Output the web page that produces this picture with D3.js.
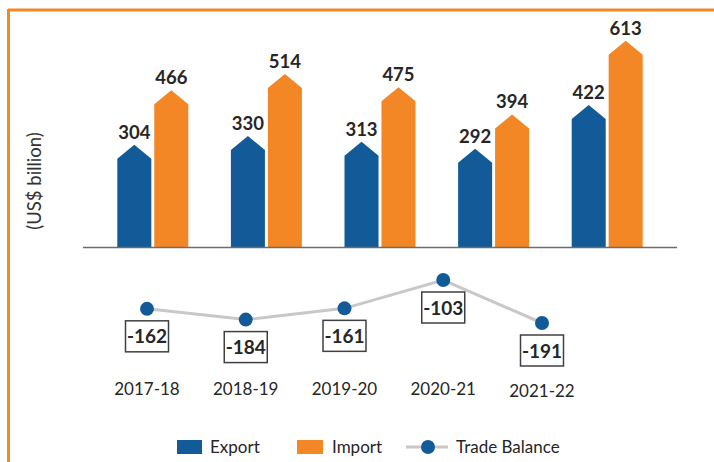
<!DOCTYPE html>
<html>
<head>
<meta charset="utf-8">
<script src="https://cdn.jsdelivr.net/npm/d3@7.9.0/dist/d3.min.js"></script>
<style>
  body { margin: 0; background: #fff; }
  svg { display: block; font-family: Lato, "Open Sans", sans-serif; }
</style>
</head>
<body>
<svg id="chart" width="714" height="462"></svg>
<script>
const years = ["2017-18", "2018-19", "2019-20", "2020-21", "2021-22"];
const exportVals = [304, 330, 313, 292, 422];
const importVals = [466, 514, 475, 394, 613];
const balanceVals = [-162, -184, -161, -103, -191];
const seriesNames = ["Export", "Import"];

const blue = "#135b98";
const orange = "#f38625";
const svg = d3.select("#chart");

// orange frame (top + left only)
svg.append("line").attr("x1", 8).attr("x2", 714).attr("y1", 10).attr("y2", 10)
  .attr("stroke", orange).attr("stroke-width", 3);
svg.append("line").attr("x1", 8.5).attr("x2", 8.5).attr("y1", 9).attr("y2", 462)
  .attr("stroke", orange).attr("stroke-width", 3);

// bars
const x0 = d3.scaleBand().domain(years).range([96, 664]).paddingInner(0.375).paddingOuter(0.1875);
const x1 = d3.scaleBand().domain(seriesNames).range([0, x0.bandwidth()]).paddingInner(0.08);
const y = d3.scaleLinear().domain([0, 660]).range([247, 25]);
const head = 14;

const rows = years.map((yr, i) => ({ year: yr, vals: [
  { key: "Export", value: exportVals[i] },
  { key: "Import", value: importVals[i] }
]}));

function arrowPath(d) {
  const xl = 0, xr = x1.bandwidth(), xm = xr / 2;
  const tip = y(d.value), base = y(0);
  return `M${xl},${base}V${tip + head}L${xm},${tip}L${xr},${tip + head}V${base}Z`;
}

const groups = svg.append("g").selectAll("g")
  .data(rows).join("g")
  .attr("transform", d => `translate(${x0(d.year)},0)`);

const bars = groups.selectAll("g").data(d => d.vals).join("g")
  .attr("transform", d => `translate(${x1(d.key)},0)`);

bars.append("path")
  .attr("d", arrowPath)
  .attr("fill", d => d.key === "Export" ? blue : orange);

bars.append("text")
  .attr("x", x1.bandwidth() / 2)
  .attr("y", d => y(d.value) - 6)
  .attr("text-anchor", "middle")
  .attr("font-size", 18.5).attr("font-weight", "bold").attr("fill", "#262626")
  .text(d => d.value);

svg.append("line").attr("x1", 83).attr("x2", 677).attr("y1", 247.5).attr("y2", 247.5)
  .attr("stroke", "#6d6d6d").attr("stroke-width", 1.5);

// y label
svg.append("text")
  .attr("transform", "translate(41,181) rotate(-90)")
  .attr("text-anchor", "middle")
  .attr("font-size", 18.5).attr("fill", "#333")
  .text("(US$ billion)");

// trade balance line
const xb = d3.scalePoint().domain(years).range([147, 542]);
const yb = d3.scaleLinear().domain([-191, -103]).range([323, 280]);

svg.append("path")
  .datum(balanceVals)
  .attr("d", d3.line().x((d, i) => xb(years[i])).y(d => yb(d)))
  .attr("fill", "none").attr("stroke", "#c8c8c8").attr("stroke-width", 3);

svg.append("g").selectAll("circle").data(balanceVals).join("circle")
  .attr("cx", (d, i) => xb(years[i])).attr("cy", d => yb(d)).attr("r", 7)
  .attr("fill", blue);

const boxes = svg.append("g").selectAll("g").data(balanceVals).join("g")
  .attr("transform", (d, i) => `translate(${xb(years[i])},${yb(d) + 12})`);
boxes.append("rect")
  .attr("x", -21.5).attr("y", 0).attr("width", 43).attr("height", 31)
  .attr("fill", "#fff").attr("stroke", "#404040").attr("stroke-width", 1.5);
boxes.append("text")
  .attr("y", 22.5).attr("text-anchor", "middle")
  .attr("font-size", 19).attr("font-weight", "bold").attr("fill", "#262626")
  .text(d => d);

// category labels
svg.append("g").selectAll("text").data(years).join("text")
  .attr("x", d => xb(d)).attr("y", (d, i) => i === 4 ? 397 : 395)
  .attr("text-anchor", "middle")
  .attr("font-size", 17).attr("fill", "#262626")
  .text(d => d);

// legend
const leg = svg.append("g").attr("font-size", 17).attr("fill", "#262626");
leg.append("rect").attr("x", 177).attr("y", 440).attr("width", 25).attr("height", 14).attr("fill", blue);
leg.append("text").attr("x", 210).attr("y", 453).text("Export");
leg.append("rect").attr("x", 297).attr("y", 440).attr("width", 26).attr("height", 14).attr("fill", orange);
leg.append("text").attr("x", 332).attr("y", 453).text("Import");
leg.append("line").attr("x1", 406).attr("x2", 448).attr("y1", 447).attr("y2", 447)
  .attr("stroke", "#c8c8c8").attr("stroke-width", 3);
leg.append("circle").attr("cx", 428).attr("cy", 447).attr("r", 7).attr("fill", blue);
leg.append("text").attr("x", 456).attr("y", 453).text("Trade Balance");
</script>
</body>
</html>
